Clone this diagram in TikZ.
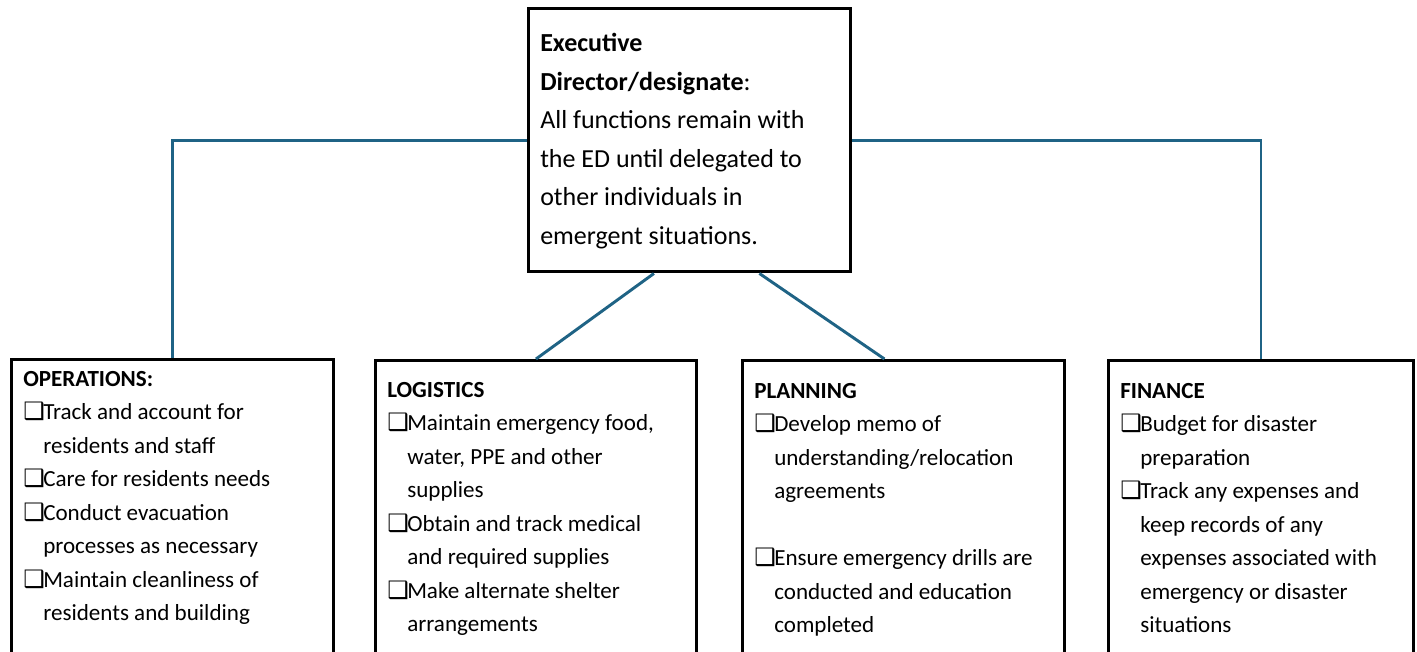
\documentclass[tikz,border=0pt]{standalone}
\usepackage{fontspec}
\setmainfont{Carlito}
\newfontfamily\symfont{DejaVu Sans}
\usetikzlibrary{calc}
\definecolor{linkblue}{RGB}{31,99,133}
\newcommand\chk{\makebox[15pt][l]{\symfont\fontsize{18}{18}\selectfont ❑}}
\newcommand\ind{\hspace*{15pt}}

\begin{document}
\begin{tikzpicture}[x=0.75pt, y=-0.75pt,
			box/.style={
				draw,
				line width = 2.2pt,
				minimum width = 241.5pt,
				minimum height = 240pt,
				inner sep = 0pt,
				anchor = north west},
			txt/.style={
				anchor = north west,
				inner sep = 0pt,
				align = left,
				font = \fontsize{17.3}{25.1}\selectfont},
			link/.style={linkblue, line width = 2.2pt}]
			\clip (0, 0) rectangle (1417, 652);
			\node (ed) at (527, 7) [box, minimum height = 197.25pt, line width = 2.6pt] {};
			\node (ops) at (10, 358) [box] {};
			\node (log) at (374, 359) [box, minimum width = 240.75pt] {};
			\node (pln) at (741, 359) [box] {};
			\node (fin) at (1107, 359) [box, minimum width = 228.75pt] {};
			\draw[link] (ed.west) -| (ops.north);
			\draw[link] (ed.east) -| (fin.north);
			\draw[link] ($(ed.south west)!0.39!(ed.south east)$) -- (log.north);
			\draw[link] ($(ed.south west)!0.714!(ed.south east)$) -- ($(pln.north)+(-19, 0)$);
			\node (edtext) at (540, 33) [txt, font = \fontsize{19.5}{28.9}\selectfont]
				{\textbf{Executive}\\ \textbf{Director/designate}:\\ All functions remain with\\
				 the ED until delegated to\\ other individuals in\\ emergent situations.};
			\node (opstext) at (23, 371) [txt]
				{\textbf{OPERATIONS:}\\ \chk Track and account for\\ \ind residents and staff\\
				 \chk Care for residents needs\\ \chk Conduct evacuation\\ \ind processes as necessary\\
				 \chk Maintain cleanliness of\\ \ind residents and building};
			\node (logtext) at (387, 382) [txt]
				{\textbf{LOGISTICS}\\ \chk Maintain emergency food,\\ \ind water, PPE and other\\
				 \ind supplies\\ \chk Obtain and track medical\\ \ind and required supplies\\
				 \chk Make alternate shelter\\ \ind arrangements};
			\node (plntext) at (754, 383) [txt]
				{\textbf{PLANNING}\\ \chk Develop memo of\\ \ind understanding/relocation\\
				 \ind agreements\\[25.1pt] \chk Ensure emergency drills are\\
				 \ind conducted and education\\ \ind completed};
			\node (fintext) at (1120, 383) [txt]
				{\textbf{FINANCE}\\ \chk Budget for disaster\\ \ind preparation\\
				 \chk Track any expenses and\\ \ind keep records of any\\
				 \ind expenses associated with\\ \ind emergency or disaster\\ \ind situations};
			\end{tikzpicture}
\end{document}
